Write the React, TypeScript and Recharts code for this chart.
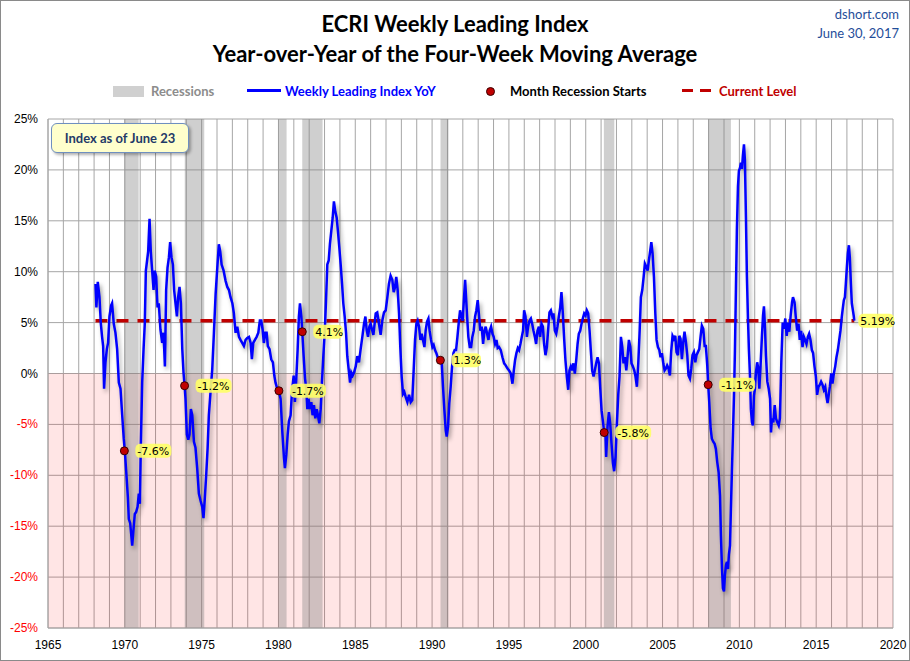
import { ComposedChart, Line, Scatter, XAxis, YAxis, CartesianGrid, ReferenceArea, ReferenceLine } from "recharts";

// [decimal year, YoY %]
const weeklyYoY: [number, number][] = [
  [1968.09, 8.8], [1968.15, 6.5], [1968.24, 9.0], [1968.35, 7.5], [1968.44, 4.9], [1968.52, 3.6], [1968.59, 2.7], [1968.65, -1.5],
  [1968.74, 1.1], [1968.83, 2.4], [1968.91, 3.0], [1969.0, 5.6], [1969.11, 6.7], [1969.17, 6.9], [1969.28, 4.9], [1969.39, 4.0],
  [1969.5, 2.4], [1969.61, -0.9], [1969.72, -1.5], [1969.83, -4.1], [1969.93, -6.4], [1970.0, -7.6], [1970.09, -9.6], [1970.2, -12.2],
  [1970.26, -14.3], [1970.35, -14.7], [1970.41, -15.7], [1970.48, -16.9], [1970.56, -15.4], [1970.65, -13.8], [1970.74, -13.6],
  [1970.83, -13.1], [1970.91, -11.8], [1970.98, -12.8], [1971.04, -7.3], [1971.13, -0.9], [1971.22, 2.4], [1971.3, 4.9],
  [1971.37, 10.1], [1971.45, 11.1], [1971.52, 12.0], [1971.61, 15.2], [1971.69, 12.0], [1971.78, 10.1], [1971.87, 8.2],
  [1971.95, 10.1], [1972.04, 9.5], [1972.13, 6.5], [1972.21, 6.9], [1972.32, 4.3], [1972.43, 3.0], [1972.52, 4.0], [1972.61, 0.7],
  [1972.69, 8.2], [1972.78, 10.4], [1972.87, 11.4], [1972.95, 12.9], [1973.04, 11.4], [1973.13, 10.7], [1973.21, 8.2],
  [1973.3, 6.9], [1973.39, 5.6], [1973.47, 7.5], [1973.56, 8.5], [1973.65, 6.9], [1973.74, 2.4], [1973.82, 0.1], [1973.89, -1.2],
  [1973.95, -2.5], [1974.04, -6.0], [1974.13, -6.5], [1974.21, -6.0], [1974.3, -3.5], [1974.39, -4.1], [1974.5, -6.7],
  [1974.6, -7.3], [1974.71, -9.3], [1974.82, -11.8], [1974.93, -12.5], [1975.04, -13.1], [1975.12, -14.2], [1975.21, -12.2],
  [1975.3, -9.9], [1975.39, -7.3], [1975.47, -4.1], [1975.58, -1.8], [1975.69, 0.4], [1975.8, 4.0], [1975.91, 7.8],
  [1976.02, 10.4], [1976.12, 12.7], [1976.21, 12.0], [1976.3, 10.7], [1976.43, 10.1], [1976.56, 9.1], [1976.67, 8.5],
  [1976.78, 8.2], [1976.88, 7.5], [1977.0, 6.9], [1977.1, 5.9], [1977.21, 4.0], [1977.32, 4.6], [1977.43, 3.6], [1977.53, 3.3],
  [1977.64, 3.0], [1977.75, 2.7], [1977.86, 3.3], [1977.97, 3.5], [1978.08, 3.6], [1978.19, 3.0], [1978.27, 1.4], [1978.36, 3.0],
  [1978.47, 3.3], [1978.58, 3.6], [1978.69, 4.0], [1978.79, 5.2], [1978.88, 5.2], [1978.97, 4.3], [1979.05, 3.0], [1979.14, 4.0],
  [1979.23, 4.0], [1979.31, 2.7], [1979.42, 2.4], [1979.53, 1.4], [1979.64, 1.1], [1979.73, -0.2], [1979.81, -0.9],
  [1979.92, -1.5], [1980.03, -1.7], [1980.14, -2.5], [1980.25, -5.7], [1980.36, -8.3], [1980.42, -9.3], [1980.51, -8.0],
  [1980.6, -6.0], [1980.68, -4.7], [1980.79, -4.1], [1980.88, -1.8], [1980.99, -0.2], [1981.07, -2.8], [1981.16, -0.5],
  [1981.25, 2.4], [1981.33, 5.6], [1981.4, 6.9], [1981.49, 5.6], [1981.55, 4.1], [1981.64, 1.7], [1981.73, -0.5],
  [1981.81, -1.5], [1981.88, -3.5], [1981.96, -2.5], [1982.05, -3.5], [1982.14, -2.8], [1982.22, -4.1], [1982.31, -3.1],
  [1982.4, -4.4], [1982.49, -3.5], [1982.57, -4.1], [1982.66, -4.9], [1982.75, -3.5], [1982.83, -0.9], [1982.92, 1.7],
  [1983.01, 4.0], [1983.09, 6.9], [1983.18, 10.7], [1983.27, 11.1], [1983.35, 12.7], [1983.44, 14.0], [1983.53, 15.3],
  [1983.61, 16.9], [1983.7, 15.9], [1983.79, 15.3], [1983.87, 14.0], [1983.96, 12.4], [1984.05, 10.7], [1984.14, 8.8],
  [1984.22, 6.9], [1984.31, 5.6], [1984.4, 4.0], [1984.48, 1.7], [1984.57, 0.4], [1984.66, -0.9], [1984.74, 0.1],
  [1984.83, -0.2], [1984.92, 0.1], [1985.03, 0.7], [1985.13, 1.7], [1985.24, 1.1], [1985.35, 2.4], [1985.46, 3.6],
  [1985.57, 4.9], [1985.66, 5.6], [1985.74, 4.3], [1985.83, 3.6], [1985.92, 4.6], [1986.0, 4.9], [1986.09, 4.3], [1986.18, 3.8],
  [1986.26, 4.9], [1986.33, 5.9], [1986.43, 6.0], [1986.54, 4.9], [1986.65, 3.8], [1986.76, 5.2], [1986.87, 6.0], [1986.98, 6.2],
  [1987.09, 7.5], [1987.19, 8.8], [1987.3, 9.6], [1987.41, 9.2], [1987.5, 8.0], [1987.59, 8.5], [1987.67, 9.5], [1987.76, 8.2],
  [1987.85, 5.9], [1987.93, 2.6], [1988.02, -0.3], [1988.11, -2.0], [1988.19, -1.8], [1988.28, -2.3], [1988.39, -2.8],
  [1988.5, -2.1], [1988.61, -2.8], [1988.71, -2.6], [1988.8, 0.3], [1988.89, 3.3], [1988.98, 4.9], [1989.06, 5.2],
  [1989.15, 4.6], [1989.24, 3.3], [1989.32, 3.9], [1989.41, 3.3], [1989.5, 2.6], [1989.58, 4.2], [1989.67, 5.1], [1989.76, 5.4],
  [1989.84, 4.2], [1989.93, 3.3], [1990.02, 2.6], [1990.1, 2.8], [1990.19, 2.3], [1990.28, 2.0], [1990.36, 1.6], [1990.45, 1.5],
  [1990.54, 1.3], [1990.63, 1.0], [1990.71, -1.3], [1990.8, -3.6], [1990.89, -5.6], [1990.95, -6.2], [1991.04, -5.2],
  [1991.12, -2.9], [1991.21, -1.3], [1991.3, 0.7], [1991.39, 2.0], [1991.47, 2.3], [1991.56, 2.3], [1991.65, 3.6],
  [1991.73, 4.9], [1991.82, 6.2], [1991.91, 5.6], [1991.99, 5.2], [1992.08, 7.5], [1992.15, 9.2], [1992.21, 7.5], [1992.28, 5.6],
  [1992.36, 3.6], [1992.45, 2.6], [1992.54, 2.6], [1992.62, 3.6], [1992.71, 4.2], [1992.8, 5.6], [1992.88, 6.2], [1992.97, 7.2],
  [1993.06, 5.6], [1993.14, 4.2], [1993.23, 4.6], [1993.32, 2.9], [1993.41, 4.2], [1993.49, 4.6], [1993.58, 3.9], [1993.67, 3.3],
  [1993.75, 4.2], [1993.84, 4.6], [1993.93, 3.9], [1994.01, 3.6], [1994.1, 2.9], [1994.19, 3.3], [1994.27, 2.5], [1994.36, 2.6],
  [1994.47, 2.3], [1994.58, 1.6], [1994.69, 1.0], [1994.79, 0.8], [1994.9, 0.5], [1995.01, 0.3], [1995.12, 0.0], [1995.23, -1.0],
  [1995.32, 0.3], [1995.4, 1.3], [1995.49, 2.0], [1995.58, 2.5], [1995.66, 2.3], [1995.75, 2.9], [1995.84, 3.6], [1995.92, 4.2],
  [1995.99, 6.2], [1996.08, 5.6], [1996.17, 3.6], [1996.25, 4.6], [1996.34, 5.2], [1996.43, 5.4], [1996.51, 4.9], [1996.6, 4.2],
  [1996.69, 3.6], [1996.77, 2.9], [1996.86, 4.2], [1996.95, 4.6], [1997.03, 3.6], [1997.12, 4.9], [1997.21, 4.6], [1997.29, 2.9],
  [1997.38, 1.8], [1997.47, 2.6], [1997.55, 4.2], [1997.64, 6.0], [1997.73, 6.2], [1997.82, 5.6], [1997.9, 5.9], [1997.99, 4.2],
  [1998.08, 3.9], [1998.16, 4.6], [1998.25, 5.6], [1998.34, 6.5], [1998.42, 8.0], [1998.51, 5.9], [1998.6, 3.3], [1998.68, 1.3],
  [1998.77, -0.3], [1998.86, -1.6], [1998.94, 0.3], [1999.03, 0.7], [1999.12, 0.3], [1999.2, 1.0], [1999.29, 0.0], [1999.38, 1.3],
  [1999.47, 2.9], [1999.55, 3.9], [1999.64, 4.2], [1999.73, 4.9], [1999.81, 5.4], [1999.9, 5.9], [1999.99, 5.7], [2000.07, 6.2],
  [2000.16, 5.9], [2000.25, 4.2], [2000.33, 2.3], [2000.42, 0.3], [2000.51, -0.3], [2000.59, 0.3], [2000.68, 1.0], [2000.77, 1.6],
  [2000.86, 1.0], [2000.94, -1.3], [2001.03, -3.6], [2001.12, -4.7], [2001.2, -5.8], [2001.29, -6.2], [2001.33, -8.2],
  [2001.42, -5.2], [2001.51, -3.8], [2001.59, -4.9], [2001.68, -6.9], [2001.77, -8.8], [2001.85, -9.6], [2001.94, -8.2],
  [2002.03, -4.9], [2002.12, -2.0], [2002.2, -0.3], [2002.29, 3.6], [2002.38, 2.6], [2002.46, 1.0], [2002.55, 1.6], [2002.64, 0.3],
  [2002.72, 1.6], [2002.81, 3.3], [2002.9, 2.6], [2002.98, 1.0], [2003.07, 0.7], [2003.16, 0.3], [2003.24, -0.3], [2003.33, -1.3],
  [2003.42, 1.0], [2003.51, 4.2], [2003.59, 7.5], [2003.68, 8.2], [2003.77, 9.5], [2003.85, 10.8], [2003.94, 10.5],
  [2004.03, 10.1], [2004.11, 11.1], [2004.2, 12.1], [2004.27, 12.9], [2004.35, 11.8], [2004.44, 9.5], [2004.53, 5.9],
  [2004.61, 3.3], [2004.7, 2.6], [2004.79, 2.3], [2004.87, 1.6], [2004.96, 2.0], [2005.05, 1.0], [2005.13, 0.3], [2005.22, 0.5],
  [2005.3, 0.8], [2005.39, 0.5], [2005.48, -0.2], [2005.56, 2.1], [2005.65, 3.7], [2005.74, 3.4], [2005.83, 3.7], [2005.91, 2.1],
  [2006.0, 1.8], [2006.09, 3.7], [2006.17, 3.4], [2006.26, 1.4], [2006.35, 3.1], [2006.43, 4.1], [2006.52, 3.1], [2006.61, 1.8],
  [2006.69, -0.2], [2006.78, -0.5], [2006.87, 0.5], [2006.95, 1.8], [2007.04, 2.1], [2007.13, 1.1], [2007.21, 1.8], [2007.3, 2.1],
  [2007.39, 2.4], [2007.48, 3.7], [2007.56, 4.7], [2007.65, 4.4], [2007.74, 2.7], [2007.82, 2.7], [2007.91, 0.8], [2007.97, -1.1],
  [2008.04, -2.8], [2008.13, -5.4], [2008.21, -6.4], [2008.3, -6.7], [2008.39, -6.9], [2008.47, -7.4], [2008.56, -8.7],
  [2008.65, -9.7], [2008.74, -12.0], [2008.8, -15.9], [2008.87, -19.2], [2008.93, -21.1], [2009.0, -21.4], [2009.06, -19.8],
  [2009.13, -18.8], [2009.19, -18.5], [2009.26, -19.2], [2009.32, -17.8], [2009.39, -16.9], [2009.45, -13.3], [2009.52, -9.3],
  [2009.58, -6.1], [2009.65, -2.2], [2009.71, 2.1], [2009.78, 8.6], [2009.84, 14.2], [2009.91, 18.4], [2009.97, 19.9],
  [2010.04, 20.2], [2010.1, 20.7], [2010.17, 20.1], [2010.23, 21.4], [2010.3, 22.5], [2010.36, 21.0], [2010.43, 15.2],
  [2010.49, 9.6], [2010.56, 5.4], [2010.62, 2.4], [2010.69, -0.2], [2010.75, -3.5], [2010.82, -4.8], [2010.88, -5.1],
  [2010.95, -2.2], [2011.01, -1.5], [2011.08, 0.1], [2011.16, 1.1], [2011.23, 0.5], [2011.3, -1.5], [2011.38, 0.8], [2011.47, 3.7],
  [2011.54, 5.7], [2011.6, 6.6], [2011.67, 4.4], [2011.73, 1.8], [2011.82, -0.8], [2011.91, -1.5], [2012.0, -2.5], [2012.06, -5.8],
  [2012.12, -4.4], [2012.21, -4.8], [2012.3, -3.1], [2012.38, -4.4], [2012.47, -4.8], [2012.56, -5.1], [2012.64, -4.4],
  [2012.73, 1.1], [2012.82, 5.0], [2012.9, 4.4], [2012.99, 5.4], [2013.08, 3.7], [2013.16, 5.0], [2013.25, 4.1], [2013.34, 5.7],
  [2013.43, 7.0], [2013.49, 7.5], [2013.59, 7.0], [2013.67, 5.6], [2013.76, 4.2], [2013.85, 4.9], [2013.93, 3.3], [2014.02, 4.2],
  [2014.11, 2.6], [2014.2, 3.6], [2014.28, 3.3], [2014.37, 2.9], [2014.46, 3.6], [2014.54, 3.9], [2014.63, 3.3], [2014.72, 2.3],
  [2014.8, 2.0], [2014.89, 0.7], [2014.98, -0.3], [2015.06, -2.1], [2015.15, -1.3], [2015.24, -1.1], [2015.32, -0.8],
  [2015.41, -1.1], [2015.5, -1.6], [2015.59, -1.3], [2015.67, -2.3], [2015.74, -2.9], [2015.8, -2.3], [2015.89, -1.3],
  [2015.98, 0.0], [2016.06, -1.0], [2016.15, 0.0], [2016.24, 0.7], [2016.32, 1.6], [2016.41, 2.3], [2016.5, 3.3], [2016.58, 4.2],
  [2016.67, 5.6], [2016.74, 6.5], [2016.8, 7.2], [2016.87, 7.5], [2016.93, 8.8], [2017.0, 10.5], [2017.06, 11.8], [2017.13, 12.6],
  [2017.19, 11.4], [2017.26, 8.8], [2017.32, 6.9], [2017.39, 6.2], [2017.45, 5.6], [2017.48, 5.19],
];

const recessionFrom = [1969.96, 1973.9, 1980.0, 1981.55, 1990.55, 2001.18, 2007.96];
const recessionTo = [1970.9, 1975.17, 1980.53, 1982.87, 1991.07, 2001.86, 2009.45];
const startMonths = [1969.97, 1973.89, 1980.03, 1981.55, 1990.54, 2001.2, 2007.97];
const startValues = [-7.6, -1.2, -1.7, 4.1, 1.3, -5.8, -1.1];

const currentLevel = 5.19;
const currentFrom = 1968.09;
const currentTo = 2017.48;

const yearTicks = [
  1965, 1966, 1967, 1968, 1969, 1970, 1971, 1972, 1973, 1974, 1975, 1976, 1977, 1978, 1979, 1980, 1981, 1982, 1983,
  1984, 1985, 1986, 1987, 1988, 1989, 1990, 1991, 1992, 1993, 1994, 1995, 1996, 1997, 1998, 1999, 2000, 2001, 2002,
  2003, 2004, 2005, 2006, 2007, 2008, 2009, 2010, 2011, 2012, 2013, 2014, 2015, 2016, 2017, 2018, 2019, 2020,
];
const pctTicks = [-25, -20, -15, -10, -5, 0, 5, 10, 15, 20, 25];

const rows = weeklyYoY.map(([t, v]) => ({ t, v }));
const startRows = startMonths.map((t, i) => ({ t, v: startValues[i] }));
const currentRows = [{ t: currentTo, v: currentLevel }];

const sans = "Lato, 'Open Sans', sans-serif";
const axisFont = "'Liberation Sans', Arial, sans-serif";
const labelFont = "'DejaVu Sans', Verdana, sans-serif";

const YearTick = ({ x, y, payload }: any) =>
  payload.value % 5 === 0 ? (
    <text x={x} y={y} dy={13} textAnchor="middle" fontSize={12} fontFamily={axisFont} fill="#000">
      {payload.value}
    </text>
  ) : null;

const PctTick = ({ x, y, payload }: any) => (
  <text x={x - 2} y={y} dy={4} textAnchor="end" fontSize={12} fontFamily={axisFont} fill={payload.value < 0 ? "#ff0000" : "#000"}>
    {payload.value}%
  </text>
);

const Highlight = ({ x, y, text }: { x: number; y: number; text: string }) => {
  const w = text.length * 6.4 + 4;
  return (
    <g>
      <rect x={x} y={y - 7} width={w} height={14} rx={5} fill="#ffff66" opacity={0.9} />
      <text x={x + 2} y={y + 4} fontSize={11} fontFamily={labelFont} fill="#000">
        {text}
      </text>
    </g>
  );
};

const StartDot = ({ cx, cy, payload }: any) => (
  <g>
    <Highlight x={cx + 11} y={cy} text={`${payload.v.toFixed(1)}%`} />
    <circle cx={cx} cy={cy} r={4} fill="#c00000" stroke="#3a0000" strokeWidth={1} />
  </g>
);

const CurrentTag = ({ cx, cy }: any) => <Highlight x={cx + 4} y={cy} text={`${currentLevel}%`} />;

const abs = (left: number, top: number, extra: React.CSSProperties = {}): React.CSSProperties => ({
  position: "absolute",
  left,
  top,
  whiteSpace: "nowrap",
  lineHeight: 1,
  fontFamily: sans,
  ...extra,
});

export default function App() {
  return (
    <div style={{ position: "absolute", left: 0, top: 0, width: 910, height: 661, background: "#fff", overflow: "hidden" }}>
      <style>{`.wli .recharts-line-curve{filter:drop-shadow(2px 3px 2px rgba(0,0,0,0.35));}`}</style>
      <div className="wli">
        <ComposedChart width={910} height={661} margin={{ top: 119, right: 17, bottom: 3, left: 8 }}>
          <CartesianGrid stroke="#a6a6a6" />
          <XAxis
            type="number"
            dataKey="t"
            domain={[1965, 2020]}
            ticks={yearTicks}
            interval={0}
            tick={<YearTick />}
            tickLine={false}
            axisLine={{ stroke: "#a6a6a6" }}
            height={30}
          />
          <YAxis
            type="number"
            dataKey="v"
            domain={[-25, 25]}
            ticks={pctTicks}
            interval={0}
            tick={<PctTick />}
            tickLine={false}
            axisLine={{ stroke: "#a6a6a6" }}
            width={40}
          />
          <ReferenceArea y1={-25} y2={0} fill="#ff0000" fillOpacity={0.1} stroke="none" />
          {recessionFrom.map((x1, i) => (
            <ReferenceArea key={x1} x1={x1} x2={recessionTo[i]} fill="#808080" fillOpacity={0.38} stroke="none" />
          ))}
          <ReferenceLine
            segment={[
              { x: currentFrom, y: currentLevel },
              { x: currentTo, y: currentLevel },
            ]}
            stroke="#c00000"
            strokeWidth={3.5}
            strokeDasharray="12 9"
          />
          <Line data={rows} dataKey="v" type="linear" stroke="#0000ff" strokeWidth={2.5} dot={false} isAnimationActive={false} />
          <Scatter data={startRows} dataKey="v" shape={<StartDot />} isAnimationActive={false} />
          <Scatter data={currentRows} dataKey="v" shape={<CurrentTag />} isAnimationActive={false} />
        </ComposedChart>
      </div>

      <div style={abs(0, 13, { width: 910, textAlign: "center", fontSize: 22, fontWeight: 700, color: "#000" })}>
        ECRI Weekly Leading Index
      </div>
      <div style={abs(0, 43, { width: 910, textAlign: "center", fontSize: 22, fontWeight: 700, color: "#000" })}>
        Year-over-Year of the Four-Week Moving Average
      </div>
      <div style={abs(0, 8, { width: 899, textAlign: "right", fontSize: 13, color: "#1f4e9a" })}>dshort.com</div>
      <div style={abs(0, 27, { width: 899, textAlign: "right", fontSize: 13, color: "#1f4e9a" })}>June 30, 2017</div>

      <div style={abs(113, 86, { width: 31, height: 11, background: "#d0d0d0" })} />
      <div style={abs(151, 85, { fontSize: 13, fontWeight: 700, color: "#8c8c8c" })}>Recessions</div>
      <div style={abs(247, 89, { width: 34, height: 3, background: "#0000ff" })} />
      <div style={abs(285, 85, { fontSize: 13, fontWeight: 700, color: "#0000ff" })}>Weekly Leading Index YoY</div>
      <div style={abs(486, 87, { width: 7, height: 7, borderRadius: "50%", background: "#c00000", border: "1px solid #3a0000" })} />
      <div style={abs(510, 85, { fontSize: 13, fontWeight: 700, color: "#000" })}>Month Recession Starts</div>
      <div style={abs(682, 89, { width: 11, height: 3, background: "#c00000" })} />
      <div style={abs(700, 89, { width: 11, height: 3, background: "#c00000" })} />
      <div style={abs(719, 85, { fontSize: 13, fontWeight: 700, color: "#c00000" })}>Current Level</div>

      <div
        style={abs(51, 123, {
          width: 138,
          height: 30,
          boxSizing: "border-box",
          border: "1px solid #6e8fc0",
          borderRadius: 6,
          background: "#ffffcc",
          boxShadow: "2px 2px 3px rgba(0,0,0,0.3)",
          fontSize: 13,
          fontWeight: 700,
          color: "#1f3a68",
          display: "flex",
          alignItems: "center",
          justifyContent: "center",
        })}
      >
        Index as of June 23
      </div>

      <div style={{ position: "absolute", left: 0, top: 0, width: 910, height: 661, boxSizing: "border-box", border: "1px solid #8a8a8a", pointerEvents: "none" }} />
    </div>
  );
}
